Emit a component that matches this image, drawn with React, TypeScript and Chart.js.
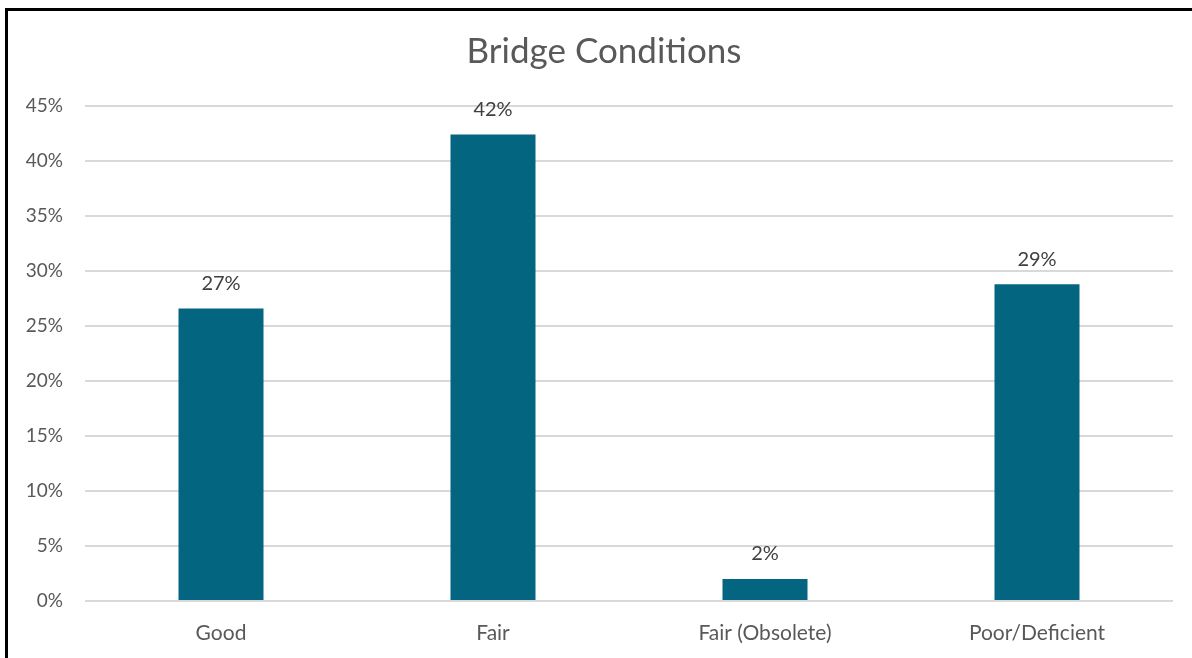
import React, { useEffect, useRef } from "react";
import { Chart, registerables } from "chart.js";

Chart.register(...registerables);

const categories = ["Good", "Fair", "Fair (Obsolete)", "Poor/Deficient"];
const shares = [26.6, 42.4, 2.0, 28.8];
const shareLabels = ["27%", "42%", "2%", "29%"];
const yTicks = [0, 5, 10, 15, 20, 25, 30, 35, 40, 45];
const chartTitle = "Bridge Conditions";

const FONT = "Lato, 'Open Sans', sans-serif";

const dataLabelPlugin = {
  id: "dataLabels",
  afterDatasetsDraw(chart: any) {
    const ctx = chart.ctx;
    const meta = chart.getDatasetMeta(0);
    ctx.save();
    ctx.font = `20px ${FONT}`;
    ctx.fillStyle = "#404040";
    ctx.textAlign = "center";
    ctx.textBaseline = "middle";
    meta.data.forEach((bar: any, i: number) => {
      ctx.fillText(shareLabels[i], bar.x, bar.y - 25);
    });
    ctx.restore();
  },
};

const titlePlugin = {
  id: "customTitle",
  afterDraw(chart: any) {
    const ctx = chart.ctx;
    ctx.save();
    ctx.font = `35px ${FONT}`;
    ctx.fillStyle = "#595959";
    ctx.textAlign = "center";
    ctx.textBaseline = "middle";
    ctx.fillText(chartTitle, 604, 52);
    ctx.restore();
  },
};

export default function App() {
  const ref = useRef<HTMLCanvasElement | null>(null);
  useEffect(() => {
    if (!ref.current) return;
    const chart = new Chart(ref.current, {
      type: "bar",
      data: {
        labels: categories,
        datasets: [
          {
            data: shares,
            backgroundColor: "#046580",
            borderWidth: 0,
            barPercentage: 0.3125,
            categoryPercentage: 1,
          },
        ],
      },
      options: {
        responsive: false,
        animation: false,
        layout: { padding: { left: 0, right: 19, top: 106, bottom: 0 } },
        plugins: {
          legend: { display: false },
          tooltip: { enabled: false },
          title: { display: false },
        },
        scales: {
          x: {
            grid: { display: false },
            border: { display: false },
            ticks: {
              color: "#595959",
              font: { family: FONT, size: 21 },
              padding: 12,
            },
            afterFit: (s: any) => {
              s.height = 57;
            },
          },
          y: {
            min: 0,
            max: 45,
            afterBuildTicks: (s: any) => {
              s.ticks = yTicks.map((v) => ({ value: v }));
            },
            grid: { color: "#d9d9d9", lineWidth: 2, drawTicks: false },
            border: { display: false },
            ticks: {
              color: "#595959",
              font: { family: FONT, size: 19 },
              padding: 22,
              callback: (v: any) => `${v}%`,
            },
            afterFit: (s: any) => {
              s.width = 85;
            },
          },
        },
      },
      plugins: [dataLabelPlugin, titlePlugin],
    });
    return () => chart.destroy();
  }, []);

  return (
    <div style={{ position: "fixed", left: 0, top: 0, width: 1192, height: 658, background: "#fff", overflow: "hidden" }}>
      <canvas ref={ref} width={1192} height={658} style={{ display: "block" }} />
      <div
        style={{
          position: "absolute",
          left: 5,
          top: 8,
          width: 1300,
          height: 800,
          borderLeft: "3px solid #000",
          borderTop: "3px solid #000",
          pointerEvents: "none",
        }}
      />
    </div>
  );
}
